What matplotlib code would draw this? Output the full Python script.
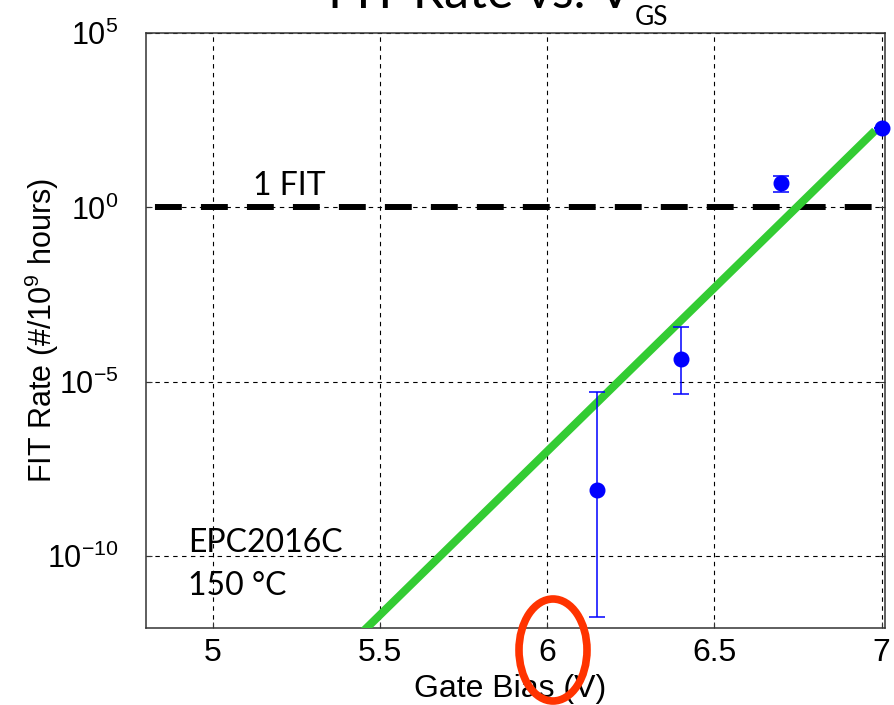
import matplotlib
matplotlib.use("Agg")
import matplotlib.pyplot as plt
from matplotlib.patches import Ellipse
from matplotlib.ticker import LogFormatterSciNotation, NullLocator, FixedLocator

# ---- data ----
gate_bias = [6.15, 6.40, 6.70, 7.00]
fit_rate = [7.9e-9, 4.6e-5, 4.9, 190.0]
err_low = [1.8e-12, 4.4e-6, 2.75, 190.0]
err_high = [5.1e-6, 3.7e-4, 8.1, 190.0]

fit_line_x = [5.40, 6.98]
fit_line_y = [2.4e-13, 158.0]

one_fit_x = [4.8, 7.01]
one_fit_y = [1.0, 1.0]

x_ticks = [5, 5.5, 6, 6.5, 7]
x_ticklabels = ["5", "5.5", "6", "6.5", "7"]
y_ticks = [1e-10, 1e-5, 1e0, 1e5]

plt.rcParams['font.family'] = ['Liberation Sans', 'DejaVu Sans']
plt.rcParams['mathtext.fontset'] = 'custom'
plt.rcParams['mathtext.rm'] = 'Liberation Sans'

W, H = 894, 705
fig = plt.figure(figsize=(W / 100, H / 100), dpi=100)
left, right, top, bottom = 146, 885, 33, 628
ax = fig.add_axes([left / W, 1 - bottom / H, (right - left) / W, (bottom - top) / H])

ax.set_yscale('log')
ax.set_xlim(4.8, 7.01)
ax.set_ylim(10 ** -12.06, 1e5)

# grid
ax.set_xticks(x_ticks)
ax.set_xticklabels(x_ticklabels)
ax.yaxis.set_major_locator(FixedLocator(y_ticks))
ax.yaxis.set_minor_locator(NullLocator())
ax.yaxis.set_major_formatter(LogFormatterSciNotation())
ax.grid(True, which='major', color='black', linewidth=0.8, linestyle=(0, (4, 4)))
ax.set_axisbelow(True)

# 1 FIT line
ax.plot(one_fit_x, one_fit_y, color='black', linewidth=4.3,
        linestyle=(6.2, (4.5, 3.2)), solid_capstyle='butt', dash_capstyle='butt', zorder=3)

# fit line
ax.plot(fit_line_x, fit_line_y, color='#33cc33', linewidth=5.8, solid_capstyle='butt', zorder=4)

# data with error bars
yerr = [[v - lo for v, lo in zip(fit_rate, err_low)], [hi - v for v, hi in zip(fit_rate, err_high)]]
ax.errorbar(gate_bias, fit_rate, yerr=yerr, fmt='o', color='#0000ff', ecolor='#0000ff',
            markersize=10.5, elinewidth=1.1, capsize=5.8, capthick=1.1, zorder=5, clip_on=False)

# text annotations
txt_font = ['Lato', 'DejaVu Sans']
ax.text(5.12, 2.28, "1 FIT", fontsize=23, family=txt_font, va='baseline', ha='left', zorder=6)
ax.text(4.926, 1.3e-10, "EPC2016C", fontsize=23, family=txt_font, va='baseline', ha='left', zorder=6)
ax.text(4.926, 7.6e-12, "150 °C", fontsize=23, family=txt_font, va='baseline', ha='left', zorder=6)

# axes styling
for s in ax.spines.values():
    s.set_color('#333333')
    s.set_linewidth(1.1)
ax.tick_params(axis='both', which='major', direction='in', length=4, width=0.8,
               color='#333333', top=False, right=True)
ax.tick_params(axis='x', labelsize=23, pad=7)
ax.tick_params(axis='y', labelsize=22, pad=20)

ax.set_xlabel("Gate Bias (V)", fontsize=23)
ax.xaxis.set_label_coords((510 - left) / (right - left), -(674 - bottom) / (bottom - top))
ax.set_ylabel(r"FIT Rate (#/10$^{\mathregular{9}}$ hours)", fontsize=22)
ax.yaxis.set_label_coords((61 - left) / (right - left), 0.5)

# title (mostly cut off at top, as in the reference)
fig.text(632 / W, 1 - 8 / H, "FIT Rate vs. V", fontsize=36, family=txt_font,
         ha='right', va='baseline')
fig.text(635 / W, 1 - 25 / H, "GS", fontsize=19, family=txt_font, ha='left', va='baseline')

# red annotation oval around the "6" tick label
ell = Ellipse((553 / W, 1 - 650 / H), 68 / W, 102 / H, transform=fig.transFigure,
              fill=False, edgecolor='#ff3300', linewidth=5.5, zorder=10)
fig.patches.append(ell)

fig.savefig("out.png", dpi=100)
